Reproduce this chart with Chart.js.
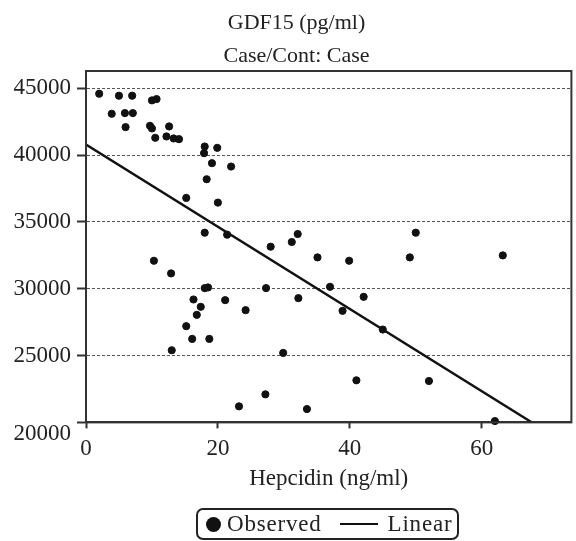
<!DOCTYPE html>
<html>
<head>
<meta charset="utf-8">
<script src="https://cdn.jsdelivr.net/npm/chart.js@4.4.1/dist/chart.umd.min.js"></script>
<style>
  html, body { margin: 0; padding: 0; background: #fff; }
  .chart-ctnr { position: relative; width: 576px; height: 541px; }
  .legend-box {
    position: absolute; left: 196px; top: 508px; width: 259px; height: 28px;
    border: 2px solid #222; border-radius: 7px;
    font-family: "Liberation Serif", "Times New Roman", serif; font-size: 23px; color: #222;
    display: flex; align-items: center;
  }
  .legend-box span.txt { letter-spacing: 0.8px; }
  .lg-dot { width: 15px; height: 15px; border-radius: 50%; background: #111; margin-left: 8px; margin-right: 6px; }
  .lg-line { width: 38px; height: 2px; background: #111; margin-left: 18px; margin-right: 10px; }
</style>
</head>
<body>
<div class="chart-ctnr">
  <canvas id="scatter" width="576" height="541"></canvas>
  <div class="legend-box">
    <span class="lg-dot"></span><span class="txt">Observed</span>
    <span class="lg-line"></span><span class="txt">Linear</span>
  </div>
</div>
<script>
// values
const hepcidin = [2.0, 3.9, 5.0, 5.9, 6.0, 7.0, 7.1, 9.7, 10.0, 10.0, 10.7, 10.5, 12.2, 12.6, 13.3, 14.1,
  15.2, 18.0, 17.9, 19.9, 19.1, 18.3, 22.0, 20.0, 18.0, 21.4, 28.0, 31.2, 32.1, 35.1, 39.9, 50.0,
  49.1, 63.2, 37.0, 32.2, 42.1, 38.9, 45.0, 29.9, 41.0, 52.0, 33.5, 62.0, 10.3, 12.9, 13.0, 15.2,
  16.3, 16.1, 16.8, 17.4, 18.0, 18.5, 18.7, 21.1, 24.2, 27.3, 27.2, 23.2];
const gdf15 = [44600, 43100, 44450, 43150, 42100, 44450, 43150, 42200, 42000, 44100, 44200, 41300, 41400, 42150, 41250, 41200,
  36800, 40650, 40150, 40550, 39400, 38200, 39150, 36450, 34200, 34050, 33150, 33500, 34100, 32350, 32100, 34200,
  32350, 32500, 30150, 29300, 29400, 28350, 26950, 25200, 23150, 23100, 21000, 20100, 32100, 31150, 25400, 27200,
  29200, 26250, 28050, 28650, 30050, 30100, 26250, 29150, 28400, 30050, 22100, 21200];

// linear fit (intercept, slope)
const fitCoef = [40800, -307.7];

const xTicks = [0, 20, 40, 60];
const yTicks = [20000, 25000, 30000, 35000, 40000, 45000];
const xRange = [0, 73.6];
const yRange = [20000, 46300];

const serif = "'Liberation Serif', 'Times New Roman', serif";
const ink = "#222";

const points = hepcidin.map((x, i) => ({ x: x, y: gdf15[i] }));
const fitLine = xRange.map((x) => ({ x: x, y: fitCoef[0] + fitCoef[1] * x }));

// draws the frame round the plot and the lowest y label a bit under its tick
const framePlugin = {
  id: "frame",
  afterLayout(chart) {
    // title sits a little right of the canvas middle
    if (chart.titleBlock) {
      chart.titleBlock.left = 18;
    }
  },
  afterDraw(chart) {
    const { ctx, chartArea } = chart;
    const yScale = chart.scales.y;
    ctx.save();
    ctx.strokeStyle = "#333";
    ctx.lineWidth = 2;
    ctx.setLineDash([]);
    ctx.strokeRect(chartArea.left, chartArea.top, chartArea.right - chartArea.left, chartArea.bottom - chartArea.top);
    ctx.fillStyle = ink;
    ctx.font = "23px " + serif;
    ctx.textAlign = "right";
    ctx.textBaseline = "middle";
    ctx.fillText(String(yTicks[0]), chartArea.left - 15, yScale.getPixelForValue(yTicks[0]) + 12);
    ctx.restore();
  },
};

const noPad = (scale) => {
  scale.paddingTop = 0;
  scale.paddingBottom = 0;
  scale.paddingLeft = 0;
  scale.paddingRight = 0;
};

new Chart(document.getElementById("scatter"), {
  type: "scatter",
  data: {
    datasets: [
      {
        label: "Observed",
        data: points,
        backgroundColor: "#111",
        borderColor: "#111",
        pointRadius: 3.6,
        pointHoverRadius: 3.6,
        clip: false,
      },
      {
        label: "Linear",
        data: fitLine,
        showLine: true,
        borderColor: "#111",
        borderWidth: 2.4,
        pointRadius: 0,
        clip: 0,
      },
    ],
  },
  options: {
    responsive: false,
    animation: false,
    layout: { padding: { top: 0, right: 1, bottom: 51, left: 0 } },
    plugins: {
      legend: { display: false },
      tooltip: { enabled: false },
      title: {
        display: true,
        text: ["GDF15 (pg/ml)", "Case/Cont: Case"],
        color: ink,
        font: { family: serif, size: 22, weight: "normal", lineHeight: 1.5 },
        padding: { top: 7, bottom: -2 },
      },
    },
    scales: {
      x: {
        type: "linear",
        min: xRange[0],
        max: xRange[1],
        afterBuildTicks: (scale) => { scale.ticks = xTicks.map((v) => ({ value: v })); },
        afterFit: noPad,
        border: { display: true, color: "#333", width: 2 },
        grid: { drawOnChartArea: false, drawTicks: true, tickLength: 6, tickColor: "#333", tickWidth: 2 },
        ticks: { color: ink, padding: 7, font: { family: serif, size: 23 }, maxRotation: 0 },
        title: {
          display: true,
          text: "Hepcidin (ng/ml)",
          color: ink,
          font: { family: serif, size: 23, lineHeight: 1 },
          padding: { top: -3, bottom: 0 },
        },
      },
      y: {
        type: "linear",
        min: yRange[0],
        max: yRange[1],
        afterBuildTicks: (scale) => { scale.ticks = yTicks.map((v) => ({ value: v })); },
        afterFit: (scale) => {
          scale.width = 86;
          noPad(scale);
        },
        // in v4 the dash of the grid lines sits under border
        border: { display: true, color: "#333", width: 2, dash: [3, 2] },
        grid: {
          color: "#555",
          lineWidth: 1,
          drawTicks: true,
          tickLength: 9,
          tickColor: "#333",
          tickWidth: 2,
          tickBorderDash: [],
        },
        ticks: {
          color: ink,
          padding: 6,
          font: { family: serif, size: 23 },
          callback: (v) => (v === yTicks[0] ? "" : String(v)),
        },
      },
    },
  },
  plugins: [framePlugin],
});
</script>
</body>
</html>
